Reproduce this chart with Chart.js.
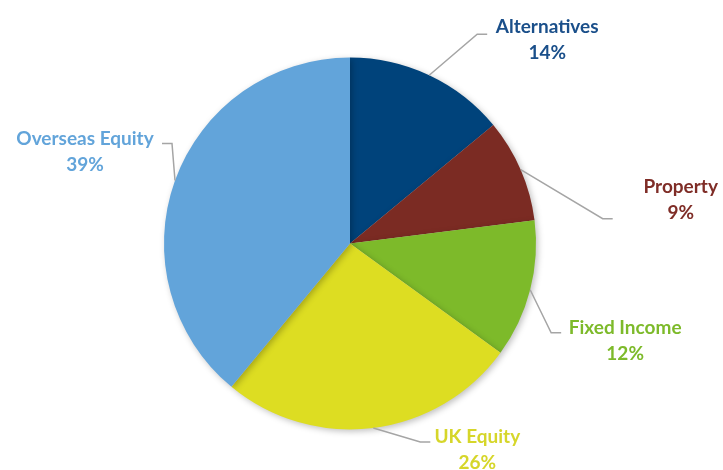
<!DOCTYPE html>
<html>
<head>
<meta charset="utf-8">
<script src="https://cdn.jsdelivr.net/npm/chart.js@4"></script>
<style>
  html, body { margin: 0; padding: 0; background: #fff; }
  #wrap { width: 723px; height: 470px; }
</style>
</head>
<body>
<div id="wrap"><canvas id="pieChart" width="723" height="470"></canvas></div>
<script>
const categories = ["Alternatives", "Property", "Fixed Income", "UK Equity", "Overseas Equity"];
const shares = [14, 9, 12, 26, 39];
const sliceColors = ["#00437b", "#7b2b23", "#7dba2a", "#dddd22", "#62a4da"];
const labelColors = ["#1a4f8a", "#7f2d27", "#7dba2a", "#d6d62a", "#62a4da"];

// leader line: elbow offset from slice edge, then short horizontal run, then text anchor
const elbows = [[48, -41], [82, 49], [21, 43], [47, 14], [-3, -37]];
const runs = [10, 10, 10, 10, -10];
const textOffsets = [[60, -7], [68, -32], [64, -5], [47, -5], [-77, -5]];

const labelPlugin = {
  id: "leaderLabels",
  afterDatasetsDraw(chart) {
    const ctx = chart.ctx;
    const meta = chart.getDatasetMeta(0);
    meta.data.forEach((arc, i) => {
      const mid = (arc.startAngle + arc.endAngle) / 2;
      const x0 = arc.x + Math.cos(mid) * arc.outerRadius;
      const y0 = arc.y + Math.sin(mid) * arc.outerRadius;
      const x1 = x0 + elbows[i][0];
      const y1 = y0 + elbows[i][1];
      const x2 = x1 + runs[i];
      ctx.save();
      ctx.strokeStyle = "#a5a5a5";
      ctx.lineWidth = 1.5;
      ctx.beginPath();
      ctx.moveTo(x0, y0);
      ctx.lineTo(x1, y1);
      ctx.lineTo(x2, y1);
      ctx.stroke();
      const tx = x2 + textOffsets[i][0];
      const ty = y1 + textOffsets[i][1];
      ctx.fillStyle = labelColors[i];
      ctx.font = "bold 19px Lato";
      ctx.textAlign = "center";
      ctx.textBaseline = "middle";
      ctx.fillText(categories[i], tx, ty);
      ctx.fillText(shares[i] + "%", tx, ty + 26);
      ctx.restore();
    });
  }
};

const shadowPlugin = {
  id: "pieShadow",
  beforeDatasetsDraw(chart) {
    const ctx = chart.ctx;
    ctx.save();
    ctx.shadowColor = "rgba(0,0,0,0.25)";
    ctx.shadowBlur = 6;
    ctx.shadowOffsetX = 2;
    ctx.shadowOffsetY = 2;
  },
  afterDatasetsDraw(chart) {
    chart.ctx.restore();
  }
};

new Chart(document.getElementById("pieChart"), {
  type: "pie",
  data: {
    labels: categories,
    datasets: [{
      data: shares,
      backgroundColor: sliceColors,
      borderWidth: 0,
      hoverOffset: 0
    }]
  },
  options: {
    responsive: false,
    animation: false,
    layout: { padding: { left: 164, right: 187, top: 57, bottom: 40 } },
    plugins: {
      legend: { display: false },
      tooltip: { enabled: false }
    }
  },
  plugins: [shadowPlugin, labelPlugin]
});
</script>
</body>
</html>
